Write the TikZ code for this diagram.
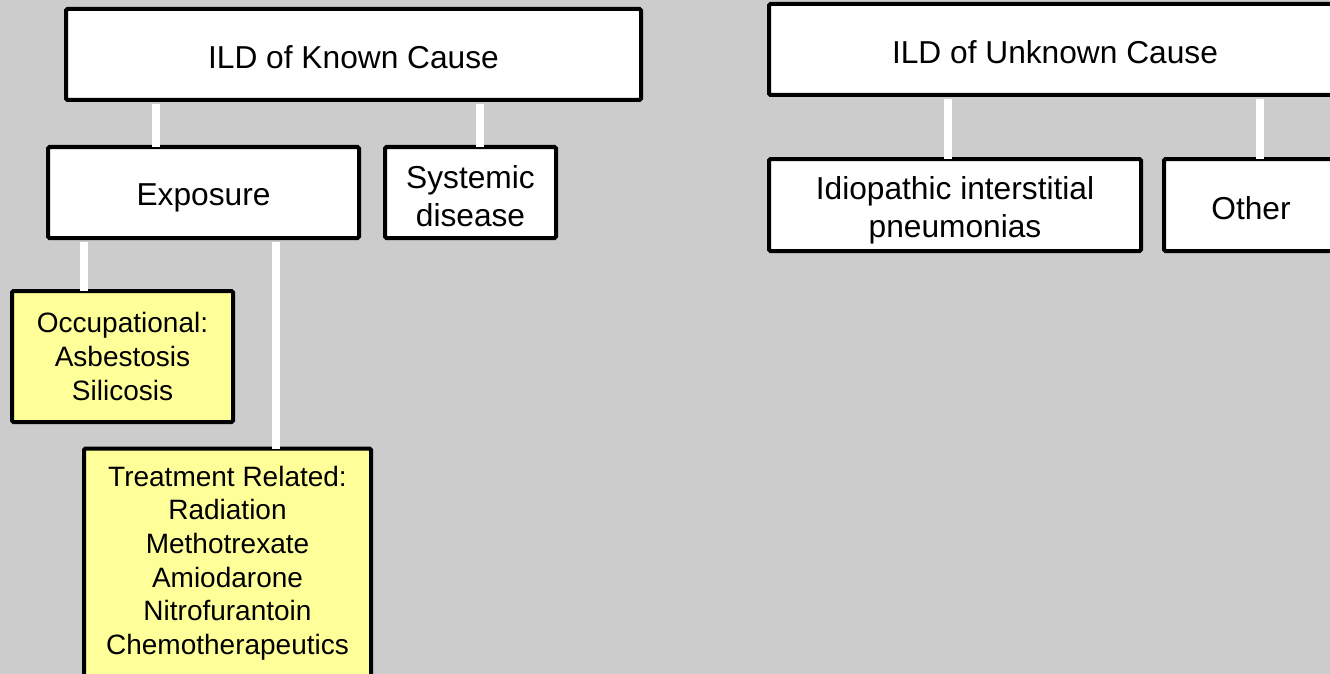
\documentclass[tikz,border=0pt]{standalone}
\usepackage{fontspec}
\setmainfont{Liberation Sans}
\definecolor{bggray}{HTML}{CCCCCC}
\definecolor{paleyellow}{HTML}{FFFF99}
\begin{document}
\begin{tikzpicture}[x=1pt,y=-1pt,
  basebox/.style={draw=black,line width=4pt,rounded corners=1.5pt,inner sep=0pt,align=center},
  box/.style={basebox,fill=white},
  ybox/.style={basebox,fill=paleyellow,font=\fontsize{28}{33.6}\selectfont},
  btext/.style={inner sep=0pt,align=center,font=\fontsize{31.7}{38}\selectfont},
  conn/.style={draw=white,line width=8pt}]
\useasboundingbox (0,0) rectangle (1330,674);
\clip (0,0) rectangle (1330,674);
\fill[bggray] (0,0) rectangle (1330,674);
% connector x positions
\coordinate (x1) at (156,0);
\coordinate (x2) at (480,0);
\coordinate (x3) at (84,0);
\coordinate (x4) at (276,0);
\coordinate (x5) at (948,0);
\coordinate (x6) at (1260,0);
% boxes
\node[box,minimum width=575pt,minimum height=91pt] (A) at (353.5,54.5) {};
\node[box,minimum width=311pt,minimum height=91pt] (B) at (203.5,192.5) {};
\node[box,minimum width=171pt,minimum height=91pt] (C) at (470.5,192.5) {};
\node[ybox,minimum width=221pt,minimum height=131pt] (D) at (122.5,356.5) {Occupational:\\Asbestosis\\Silicosis};
\node[ybox,minimum width=287pt,minimum height=229pt] (E) at (227.5,563) {Treatment Related:\\Radiation\\Methotrexate\\Amiodarone\\Nitrofurantoin\\Chemotherapeutics};
\node[box,minimum width=572pt,minimum height=91pt] (F) at (1055,49.5) {};
\node[box,minimum width=372pt,minimum height=92pt] (G) at (955,205) {};
\node[box,minimum width=174pt,minimum height=92pt] (H) at (1251,205) {};
% texts of white boxes
\node[btext] (tA) at ([yshift=-3pt]A.center) {ILD of Known Cause};
\node[btext] (tB) at ([yshift=-5pt]B.center) {Exposure};
\node[btext] (tC) at ([yshift=-4pt]C.center) {Systemic\\disease};
\node[btext] (tF) at ([yshift=-3pt]F.center) {ILD of Unknown Cause};
\node[btext] (tG) at ([yshift=-5pt]G.center) {Idiopathic interstitial\\pneumonias};
\node[btext] (tH) at ([yshift=-3pt]H.center) {Other};
% connectors
\draw[conn] (x1 |- A.south) ++(0,2) -- ([yshift=-2pt]x1 |- B.north);
\draw[conn] (x2 |- A.south) ++(0,2) -- ([yshift=-2pt]x2 |- C.north);
\draw[conn] (x3 |- B.south) ++(0,2) -- ([yshift=-2pt]x3 |- D.north);
\draw[conn] (x4 |- B.south) ++(0,2) -- ([yshift=-2pt]x4 |- E.north);
\draw[conn] (x5 |- F.south) ++(0,2) -- ([yshift=-2pt]x5 |- G.north);
\draw[conn] (x6 |- F.south) ++(0,2) -- ([yshift=-2pt]x6 |- H.north);
\end{tikzpicture}
\end{document}
